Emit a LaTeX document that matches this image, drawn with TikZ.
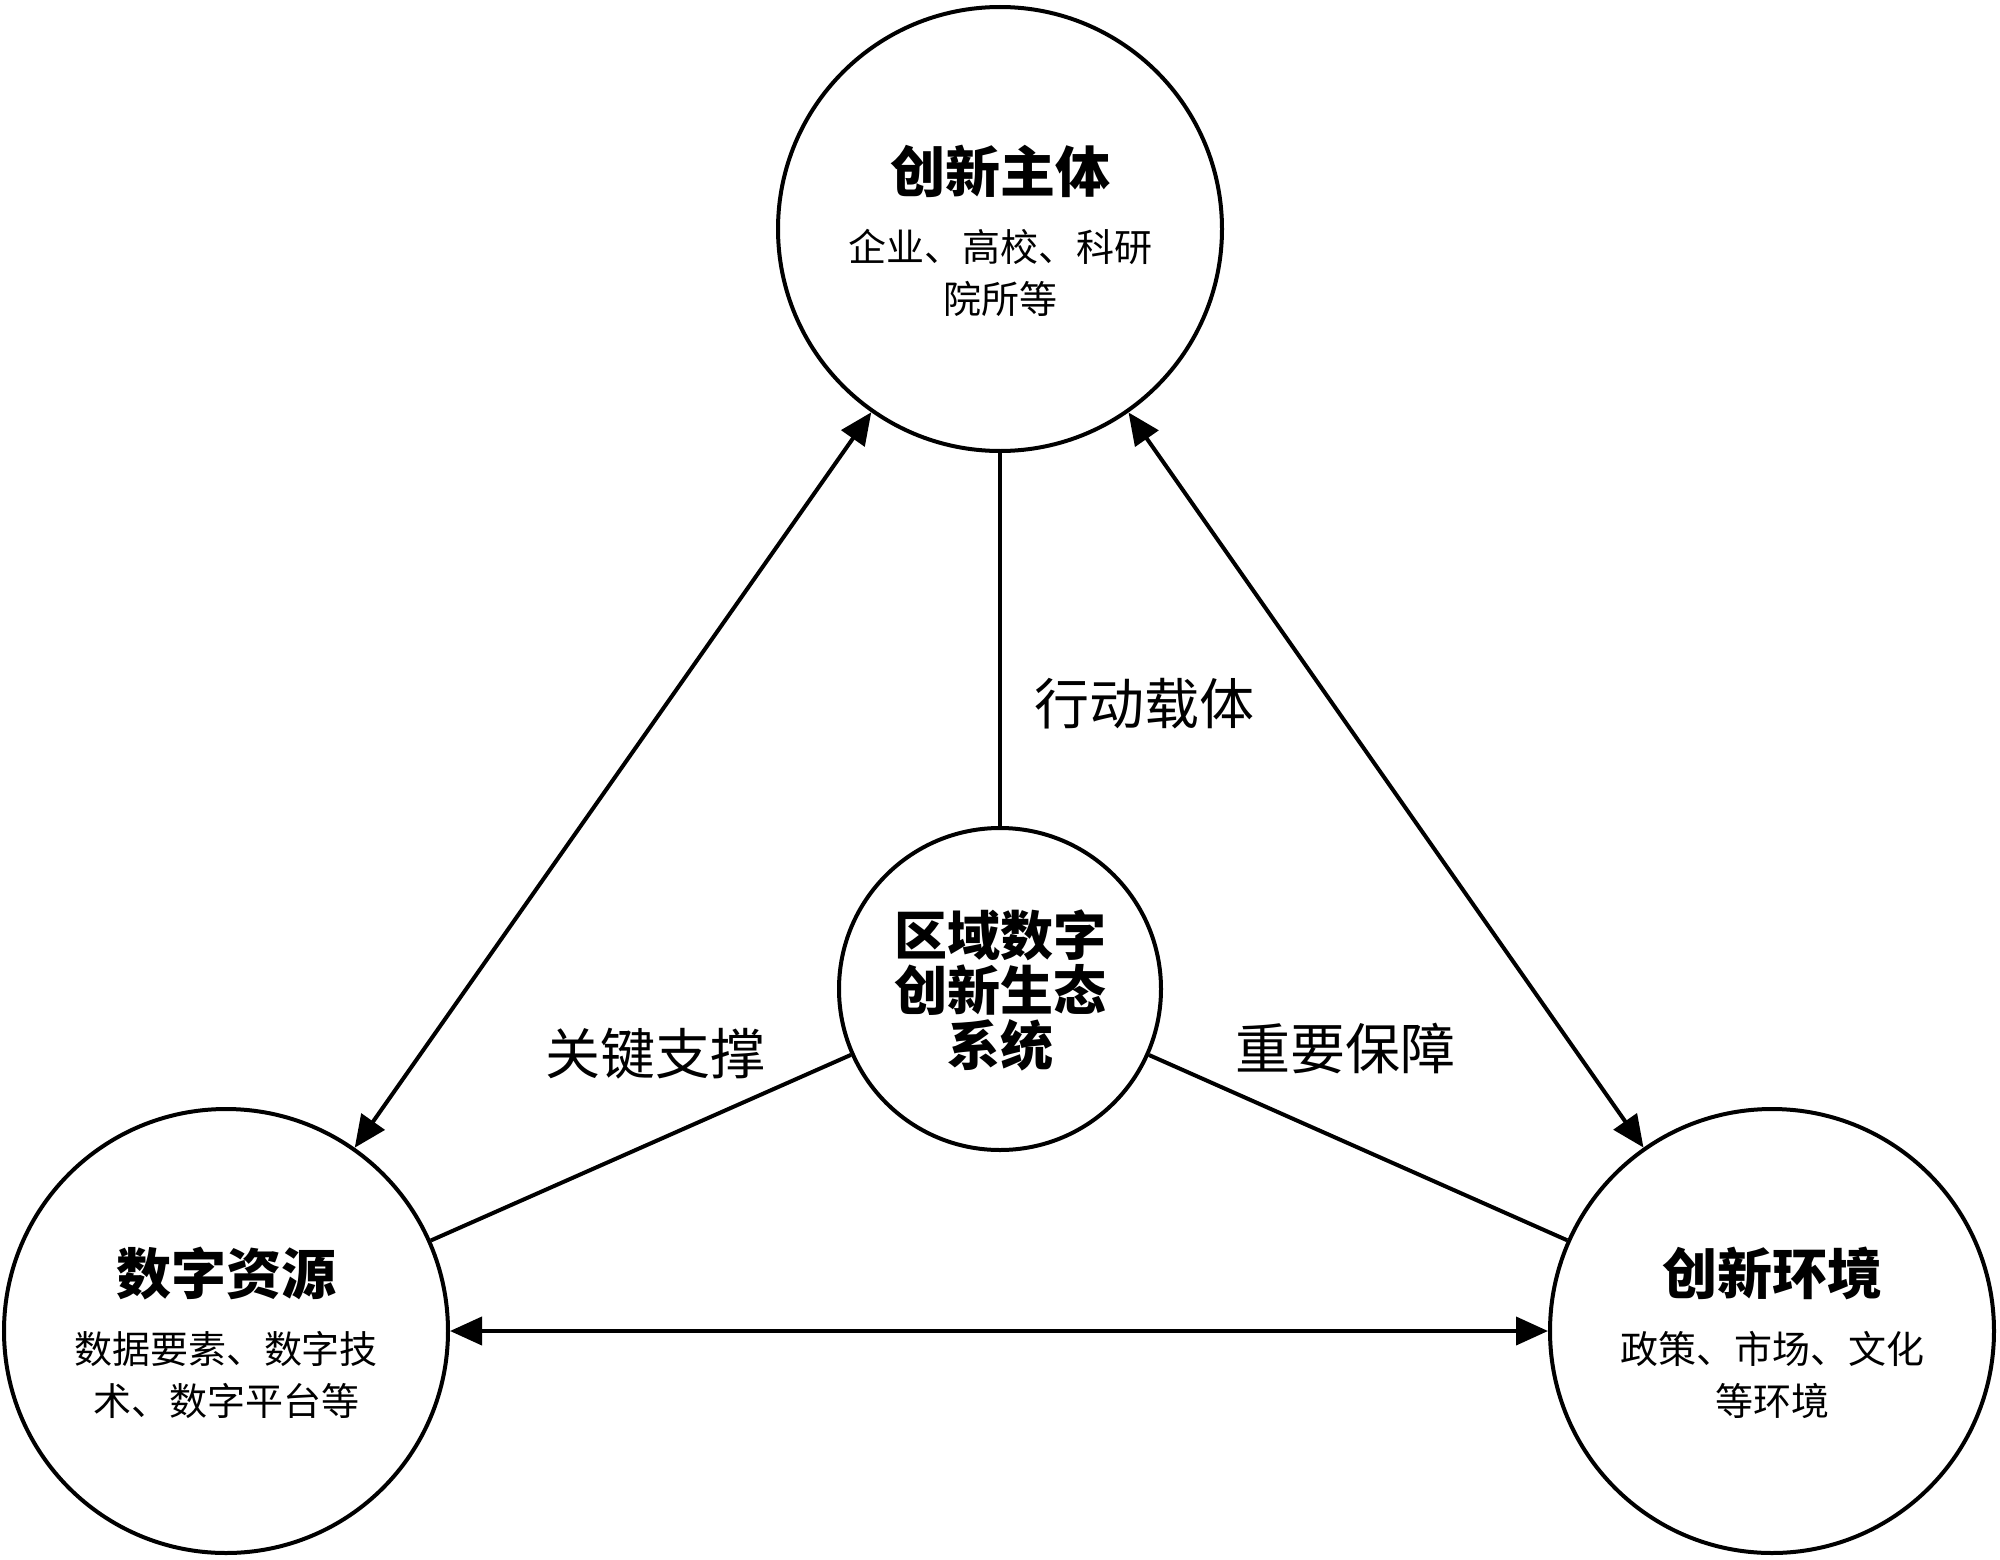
\documentclass[tikz,border=0pt]{standalone}
\usepackage{fontspec}
\setmainfont{Noto Sans CJK SC}
\usetikzlibrary{arrows.meta,calc}
\tikzset{
  bigcirc/.style={circle,draw,line width=4pt,minimum size=444pt,inner sep=0pt},
  midcirc/.style={circle,draw,line width=4pt,minimum size=322pt,inner sep=0pt},
  title/.style={anchor=base,inner sep=0pt,font=\fontsize{55}{60}\selectfont\bfseries},
  midtitle/.style={anchor=base,inner sep=0pt,font=\fontsize{53}{58}\selectfont\bfseries},
  sub/.style={anchor=base,inner sep=0pt,font=\fontsize{38}{44}\selectfont},
  elabel/.style={anchor=base,inner sep=0pt,font=\fontsize{55}{60}\selectfont},
  conn/.style={line width=4pt},
  biarrow/.style={line width=4pt,{Triangle[length=32pt,width=28pt]}-{Triangle[length=32pt,width=28pt]}}
}
\begin{document}
\begin{tikzpicture}[x=1pt,y=-1pt]
\useasboundingbox (0,0) rectangle (2000,1560);
\node[bigcirc] (top) at (1000,229) {};
\node[bigcirc] (left) at (226,1331) {};
\node[bigcirc] (right) at (1772,1331) {};
\node[midcirc] (mid) at (1000,989) {};

\node[title] (toptitle) at ($(top)+(0,-37)$) {创新主体};
\node[sub] (topsub1) at ($(top)+(0,32)$) {企业、高校、科研};
\node[sub] (topsub2) at ($(top)+(0,84)$) {院所等};

\node[title] (lefttitle) at ($(left)+(0,-37)$) {数字资源};
\node[sub] (leftsub1) at ($(left)+(0,32)$) {数据要素、数字技};
\node[sub] (leftsub2) at ($(left)+(0,84)$) {术、数字平台等};

\node[title] (righttitle) at ($(right)+(0,-37)$) {创新环境};
\node[sub] (rightsub1) at ($(right)+(0,32)$) {政策、市场、文化};
\node[sub] (rightsub2) at ($(right)+(0,84)$) {等环境};

\node[midtitle] (mid1) at ($(mid)+(0,-34)$) {区域数字};
\node[midtitle] (mid2) at ($(mid)+(0,21)$) {创新生态};
\node[midtitle] (mid3) at ($(mid)+(0,76)$) {系统};

\draw[biarrow] (top) -- (left);
\draw[biarrow] (top) -- (right);
\draw[biarrow] (left) -- (right);
\draw[conn] (mid) -- (top);
\draw[conn] (mid) -- (left);
\draw[conn] (mid) -- (right);

\node[elabel] (lab1) at (1144,724) {行动载体};
\node[elabel] (lab2) at (655,1074) {关键支撑};
\node[elabel] (lab3) at (1345,1069) {重要保障};
\end{tikzpicture}
\end{document}
